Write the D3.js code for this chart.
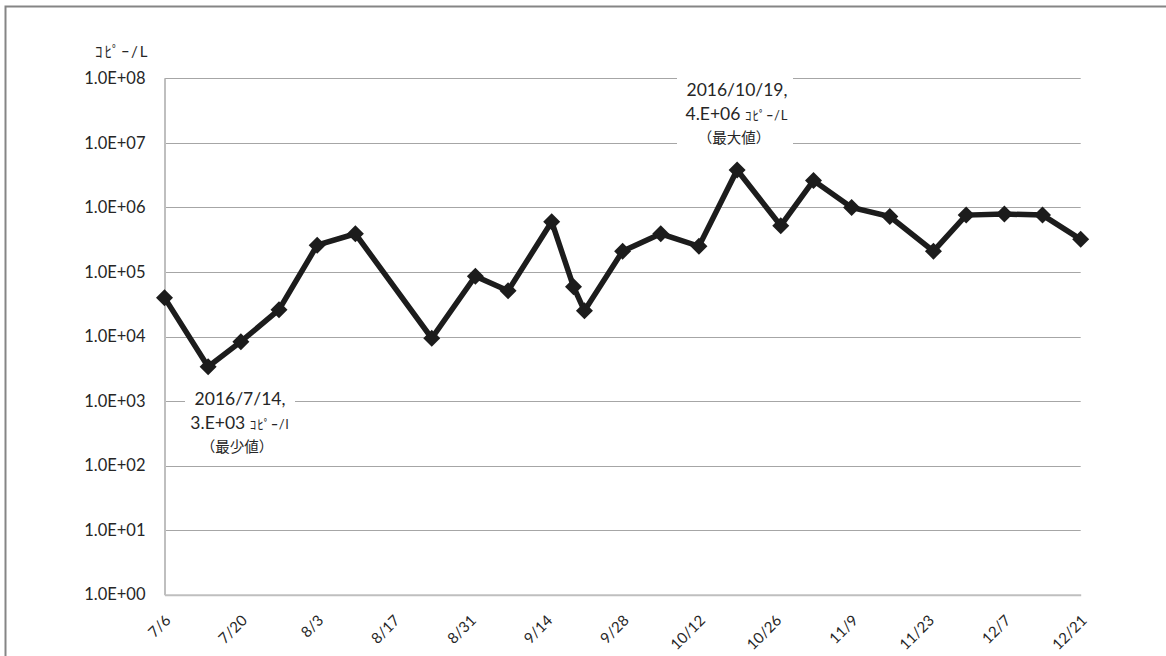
<!DOCTYPE html>
<html>
<head>
<meta charset="utf-8">
<script src="https://cdn.jsdelivr.net/npm/d3@7"></script>
<style>
  html, body { margin: 0; padding: 0; background: #fff; }
  svg { display: block; }
  text { font-family: "Lato", "Noto Sans CJK JP", sans-serif; fill: #262626; }
</style>
</head>
<body>
<svg id="chart" width="1166" height="656"></svg>
<script>
// Sampling dates and measured concentrations (copies/L)
const dates = ["2016-07-06","2016-07-14","2016-07-20","2016-07-27","2016-08-03","2016-08-10",
  "2016-08-24","2016-09-01","2016-09-07","2016-09-15","2016-09-19","2016-09-21","2016-09-28",
  "2016-10-05","2016-10-12","2016-10-19","2016-10-27","2016-11-02","2016-11-09","2016-11-16",
  "2016-11-24","2016-11-30","2016-12-07","2016-12-14","2016-12-21"];
const values = [4.0e4, 3.4e3, 8.3e3, 2.6e4, 2.6e5, 3.9e5,
  9.4e3, 8.6e4, 5.1e4, 6.0e5, 5.9e4, 2.5e4, 2.1e5,
  3.9e5, 2.5e5, 3.8e6, 5.2e5, 2.6e6, 1.0e6, 7.2e5,
  2.1e5, 7.6e5, 7.9e5, 7.6e5, 3.2e5];

// Axis ticks
const xTickDates = ["2016-07-06","2016-07-20","2016-08-03","2016-08-17","2016-08-31","2016-09-14",
  "2016-09-28","2016-10-12","2016-10-26","2016-11-09","2016-11-23","2016-12-07","2016-12-21"];
const yTicks = [1e0, 1e1, 1e2, 1e3, 1e4, 1e5, 1e6, 1e7, 1e8];
const unitLabel = "ｺﾋﾟｰ/L";

const parse = d3.utcParse("%Y-%m-%d");
const data = dates.map((d, i) => ({ date: parse(d), value: values[i] }));

const svg = d3.select("#chart");
const L = 164.5, R = 1080.7, T = 78.3, B = 594.7;

const x = d3.scaleUtc()
  .domain([parse(xTickDates[0]), parse(xTickDates[xTickDates.length - 1])])
  .range([L, R]);
const y = d3.scaleLog().domain([1, 1e8]).range([B, T]);

// Outer frame
svg.append("path")
  .attr("d", `M5.5,660 V6.5 H1170`)
  .attr("fill", "none").attr("stroke", "#858585").attr("stroke-width", 2);

// Horizontal gridlines
svg.append("g").selectAll("line").data(yTicks.slice(1)).join("line")
  .attr("x1", L).attr("x2", R)
  .attr("y1", d => Math.round(y(d)) + 0.5).attr("y2", d => Math.round(y(d)) + 0.5)
  .attr("stroke", "#a6a6a6").attr("stroke-width", 1);

// Y axis
const fmtE = d => {
  const e = Math.round(Math.log10(d));
  return "1.0E" + (e < 0 ? "-" : "+") + String(Math.abs(e)).padStart(2, "0");
};
const yAxis = svg.append("g").attr("transform", `translate(${L},0)`)
  .call(d3.axisLeft(y).tickValues(yTicks).tickFormat(fmtE).tickSize(0).tickPadding(19));
yAxis.select(".domain").attr("stroke", "#bfbfbf").attr("stroke-width", 2);
yAxis.selectAll("text").attr("font-size", 16.5).attr("fill", "#262626")
  .style("font-family", "Lato, sans-serif");

// X axis
const xAxis = svg.append("g").attr("transform", `translate(0,${B})`)
  .call(d3.axisBottom(x).tickValues(xTickDates.map(parse))
    .tickFormat(d3.utcFormat("%-m/%-d")).tickSize(0));
xAxis.select(".domain").attr("stroke", "#bfbfbf").attr("stroke-width", 2);
xAxis.selectAll("text")
  .attr("font-size", 15).attr("fill", "#262626")
  .attr("text-anchor", "end")
  .attr("dy", "0.35em")
  .attr("transform", "translate(3,23) rotate(-45)")
  .attr("y", 0).attr("x", 0);

// Unit label
svg.append("text").attr("x", 95).attr("y", 57).attr("font-size", 15)
  .attr("letter-spacing", 2).text(unitLabel);

// Series line
svg.append("path").datum(data)
  .attr("fill", "none").attr("stroke", "#1c1c1c").attr("stroke-width", 5.5)
  .attr("stroke-linejoin", "miter").attr("stroke-miterlimit", 3)
  .attr("d", d3.line().x(d => x(d.date)).y(d => y(d.value)));

// Diamond markers
svg.append("g").selectAll("path").data(data).join("path")
  .attr("transform", d => `translate(${x(d.date)},${y(d.value)})`)
  .attr("d", "M0,-8.5 L8.5,0 L0,8.5 L-8.5,0 Z")
  .attr("fill", "#1c1c1c");

// Value annotations for the min and max
const fmtSci = v => {
  let e = Math.floor(Math.log10(v));
  let m = Math.round(v / Math.pow(10, e));
  if (m >= 10) { m = 1; e += 1; }
  return m + ".E" + (e < 0 ? "-" : "+") + String(Math.abs(e)).padStart(2, "0");
};
const fmtDate = d3.utcFormat("%Y/%-m/%-d");
const iMin = d3.minIndex(data, d => d.value);
const iMax = d3.maxIndex(data, d => d.value);

function annotate(d, note, cx, base, boxX0, boxX1, unit) {
  const g = svg.append("g");
  g.append("rect").attr("x", boxX0).attr("y", base - 22).attr("width", boxX1 - boxX0).attr("height", 74)
    .attr("fill", "#fff");
  const t = g.append("text").attr("text-anchor", "middle").attr("font-size", 17.5);
  t.append("tspan").attr("x", cx).attr("y", base).text(fmtDate(d.date) + ",");
  const l2 = t.append("tspan").attr("x", cx).attr("y", base + 24);
  l2.append("tspan").text(fmtSci(d.value) + " ");
  l2.append("tspan").attr("font-size", 13).attr("letter-spacing", 1).text(unit);
  t.append("tspan").attr("x", cx - 3).attr("y", base + 47).attr("font-size", 14.5).text(note);
}
annotate(data[iMax], "（最大値）", 737, 96, 677, 793, "ｺﾋﾟｰ/L");
annotate(data[iMin], "（最少値）", 240, 405, 185, 295, "ｺﾋﾟｰ/l");
</script>
</body>
</html>
